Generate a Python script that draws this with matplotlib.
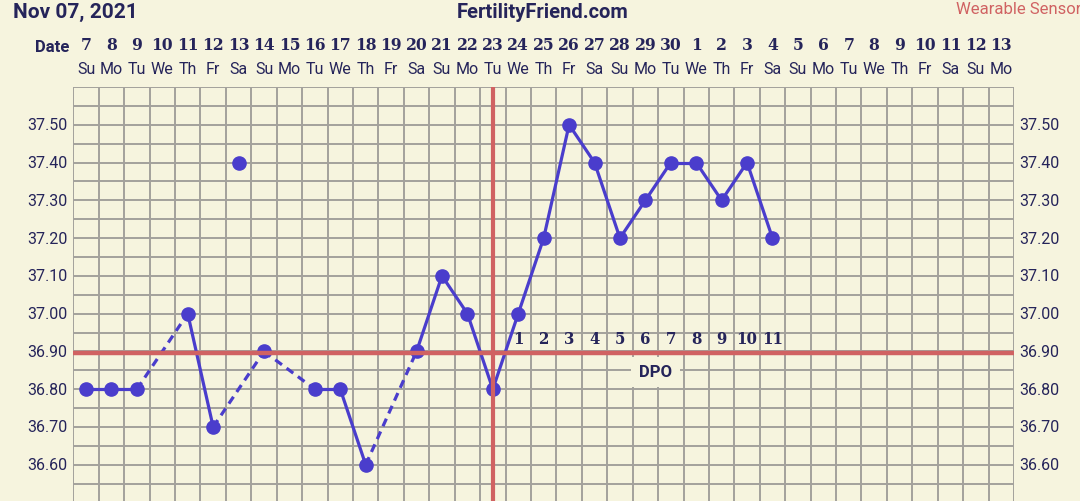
import numpy as np
import matplotlib.pyplot as plt
import matplotlib.transforms as mtransforms

# Chart data
days = ["7", "8", "9", "10", "11", "12", "13", "14", "15", "16", "17", "18", "19", "20",
        "21", "22", "23", "24", "25", "26", "27", "28", "29", "30",
        "1", "2", "3", "4", "5", "6", "7", "8", "9", "10", "11", "12", "13"]
dows = ["Su", "Mo", "Tu", "We", "Th", "Fr", "Sa"] * 5 + ["Su", "Mo"]
temps = [36.80, 36.80, 36.80, None, 37.00, 36.70, 37.40, 36.90, None, 36.80, 36.80, 36.60,
         None, 36.90, 37.10, 37.00, 36.80, 37.00, 37.20, 37.50, 37.40, 37.20, 37.30, 37.40,
         37.40, 37.30, 37.40, 37.20]
discarded = [6]
ovulation_idx = 16
coverline = 36.895
dpo_start = 17
dpo_count = 11
ytick_vals = [36.60, 36.70, 36.80, 36.90, 37.00, 37.10, 37.20, 37.30, 37.40, 37.50]

bg = "#f6f4de"
navy = "#25245a"
blue = "#4a3dcc"
red = "#d06262"
grid_c = "#a3a19c"

fig = plt.figure(figsize=(10.8, 5.02), dpi=100, facecolor=bg)
ax = fig.add_axes([0.0679, 0.0, 0.9389 - 0.0679, 1 - 88 / 502])
ax.set_facecolor(bg)
n = len(days)
ax.set_xlim(-0.5, n - 0.5)
ax.set_ylim(36.504, 37.60)

# grid: day boundaries and every 0.05
for x in np.arange(-0.5, n, 1.0):
    ax.axvline(x, color=grid_c, lw=1.4, zorder=1)
for y in np.arange(36.55, 37.61, 0.05):
    ax.axhline(y, color=grid_c, lw=1.4, zorder=1)
for s in ax.spines.values():
    s.set_visible(False)

# temperature line: solid for consecutive days, dashed across gaps
pts = [(i, t) for i, t in enumerate(temps) if t is not None and i not in discarded]
for (i0, t0), (i1, t1) in zip(pts[:-1], pts[1:]):
    ls = "-" if i1 - i0 == 1 else (0, (2.6, 1.8))
    ax.plot([i0, i1], [t0, t1], color=blue, lw=2.3, ls=ls, zorder=3)
xs = [i for i, t in enumerate(temps) if t is not None]
ys = [t for t in temps if t is not None]
ax.plot(xs, ys, "o", color=blue, ms=9.5, zorder=4)

# coverline and ovulation line
ax.axhline(coverline, color=red, lw=3.2, zorder=5)
ax.axvline(ovulation_idx, color=red, lw=3.0, zorder=5)

# DPO numbering
for k in range(dpo_count):
    ax.text(dpo_start + k, 36.933, str(k + 1), ha="center", va="center",
            fontsize=12, fontweight="bold", family="DejaVu Serif", fontstretch="condensed",
            color=navy, zorder=6)
ax.text(22.4, 36.846, "DPO", ha="center", va="center", fontsize=12, fontweight="bold",
        family="Roboto", color=navy, zorder=6,
        bbox=dict(boxstyle="square,pad=0.45", fc=bg, ec="none"))

# y tick labels on both sides
ax.set_yticks([])
ax.set_xticks([])
ytr = mtransforms.blended_transform_factory(ax.transAxes, ax.transData)
for v in ytick_vals:
    ax.text(-0.006, v, f"{v:.2f}", transform=ytr, ha="right", va="center",
            fontsize=11.5, family="Roboto", color=navy)
    ax.text(1.006, v, f"{v:.2f}", transform=ytr, ha="left", va="center",
            fontsize=11.5, family="Roboto", color=navy)

# date header
tr = mtransforms.blended_transform_factory(ax.transData, fig.transFigure)
for i, (d, w) in enumerate(zip(days, dows)):
    ax.text(i, 1 - 45 / 502, d, transform=tr, ha="center", va="center", fontsize=12.5,
            fontweight="bold", family="DejaVu Serif", fontstretch="condensed", color=navy)
    ax.text(i, 1 - 70 / 502, w, transform=tr, ha="center", va="center", fontsize=11.5,
            family="Roboto", color=navy)
fig.text(52 / 1080, 1 - 48 / 502, "Date", ha="center", va="center", fontsize=12,
         fontweight="bold", family="Roboto", color=navy)

# titles
fig.text(13 / 1080, 1 - 12 / 502, "Nov 07, 2021", ha="left", va="center", fontsize=15,
         fontweight="bold", family="Roboto", color=navy)
fig.text(543 / 1080, 1 - 12 / 502, "FertilityFriend.com", ha="center", va="center", fontsize=14.5,
         fontweight="bold", family="Roboto", color=navy)
fig.text(956 / 1080, 1 - 10 / 502, "Wearable Sensor", ha="left", va="center", fontsize=12,
         family="Roboto", color=red)

fig.savefig("out.png", dpi=100, facecolor=bg)
